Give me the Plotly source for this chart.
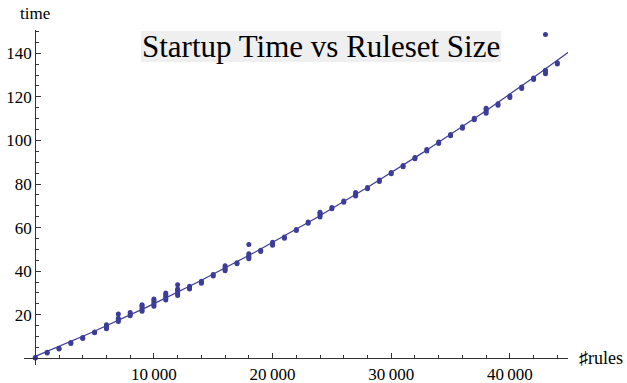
import numpy as np
import plotly.graph_objects as go

# Rule counts measured and the startup times (seconds) recorded for each run
rule_counts = [0, 1000, 2000, 3000, 4000, 5000, 6000, 7000, 8000, 9000,
               10000, 11000, 12000, 13000, 14000, 15000, 16000, 17000, 18000, 19000,
               20000, 21000, 22000, 23000, 24000, 25000, 26000, 27000, 28000, 29000,
               30000, 31000, 32000, 33000, 34000, 35000, 36000, 37000, 38000, 39000,
               40000, 41000, 42000, 43000, 44000]

startup_times = [
    [0.1, 0.3], [2.4, 2.8], [4.3, 4.6], [6.8, 7.2], [9.1, 9.5],
    [11.7, 12.1], [13.5, 14.2, 14.9, 15.4], [16.9, 17.6, 18.4, 20.3],
    [19.5, 20.2, 21.0], [21.6, 22.4, 23.3, 24.1, 24.6],
    [23.9, 24.8, 25.7, 26.5, 27.2], [26.7, 27.6, 28.5, 29.3, 30.0],
    [28.8, 29.6, 30.4, 31.2, 31.8, 33.8], [31.8, 32.4, 33.0], [34.4, 35.0, 35.4],
    [37.8, 38.4], [40.2, 40.9, 41.7, 42.5], [43.4, 43.9],
    [45.7, 46.4, 47.2, 48.0, 52.2], [49.0, 49.6],
    [51.9, 52.6, 53.2], [55.1, 55.7], [58.6, 59.1], [62.0, 62.6],
    [64.9, 65.7, 66.4, 67.0], [68.6, 69.2], [71.6, 72.2], [74.5, 75.3, 76.1],
    [77.8, 78.4], [81.2, 81.8],
    [84.7, 85.3], [87.9, 88.5], [91.6, 92.2], [95.1, 95.8], [98.6, 99.3],
    [102.1, 102.7], [105.6, 106.3], [109.5, 110.2], [112.5, 113.4, 114.2, 114.8],
    [116.1, 116.8],
    [119.7, 120.4], [123.8, 124.5], [128.0, 128.7], [130.6, 131.4, 132.2, 148.6],
    [135.1, 135.7],
]

x_tick_vals = [10000, 20000, 30000, 40000]
x_tick_text = ["10\u2009000", "20\u2009000", "30\u2009000", "40\u2009000"]
y_tick_vals = [20, 40, 60, 80, 100, 120, 140]
y_tick_text = ["20", "40", "60", "80", "100", "120", "140"]

# Flatten the samples into point lists
xs = [r for r, ts in zip(rule_counts, startup_times) for _ in ts]
ys = [t for ts in startup_times for t in ts]

# Quadratic least-squares fit through all samples
coef = np.polyfit(xs, ys, 2)
fit_x = np.linspace(0, 45000, 200)
fit_y = np.polyval(coef, fit_x)

mark_color = "#3d3d99"
axis_color = "#333333"
serif = "Liberation Serif"

x_range = [-950, 44900]
y_range = [-3.1, 150.7]
# where the axes cross (value 0) in paper fractions
x_origin = (0 - x_range[0]) / (x_range[1] - x_range[0])
y_origin = (0 - y_range[0]) / (y_range[1] - y_range[0])

fig = go.Figure()
fig.add_trace(go.Scatter(x=fit_x, y=fit_y, mode="lines",
                         line=dict(color=mark_color, width=1.2),
                         hoverinfo="skip", showlegend=False))
fig.add_trace(go.Scatter(x=xs, y=ys, mode="markers",
                         marker=dict(color=mark_color, size=5, line=dict(width=0)),
                         showlegend=False))

axis_common = dict(
    showgrid=False, zeroline=False, showline=True, linecolor=axis_color, linewidth=1,
    ticks="inside", ticklen=5, tickwidth=1, tickcolor=axis_color,
    tickfont=dict(family=serif, size=17, color="black"),
    anchor="free", automargin=False,
)

fig.update_layout(
    width=627, height=383,
    margin=dict(l=24, r=59, t=30, b=18, autoexpand=False),
    font=dict(family=serif, color="black"),
    paper_bgcolor="white", plot_bgcolor="white",
    xaxis=dict(range=x_range, tickmode="array", tickvals=x_tick_vals, ticktext=x_tick_text,
               position=y_origin,
               minor=dict(dtick=2000, tick0=0, ticks="inside", ticklen=3,
                          tickcolor=axis_color, showgrid=False),
               **axis_common),
    yaxis=dict(range=y_range, tickmode="array", tickvals=y_tick_vals, ticktext=y_tick_text,
               position=x_origin,
               minor=dict(dtick=5, tick0=0, ticks="inside", ticklen=3,
                          tickcolor=axis_color, showgrid=False),
               **axis_common),
)

# Plot label on a light grey panel
fig.add_shape(type="rect", xref="paper", yref="paper", layer="below",
              x0=0.215, x1=0.877, y0=0.9045, y1=0.997,
              fillcolor="#efefef", line=dict(width=0))
fig.add_annotation(text="Startup Time vs Ruleset Size", xref="paper", yref="paper",
                   x=0.546, y=0.951, xanchor="center", yanchor="middle", showarrow=False,
                   font=dict(family=serif, size=31, color="black"))
fig.add_annotation(text="time", xref="paper", yref="paper", x=x_origin, y=1,
                   xanchor="center", yanchor="bottom", yshift=5, showarrow=False,
                   font=dict(family=serif, size=17, color="black"))
fig.add_annotation(text="\u266frules", xref="paper", yref="paper", x=1, y=y_origin,
                   xanchor="left", yanchor="middle", xshift=9, showarrow=False,
                   font=dict(family=serif, size=18, color="black"))

fig.write_html("out.html")
